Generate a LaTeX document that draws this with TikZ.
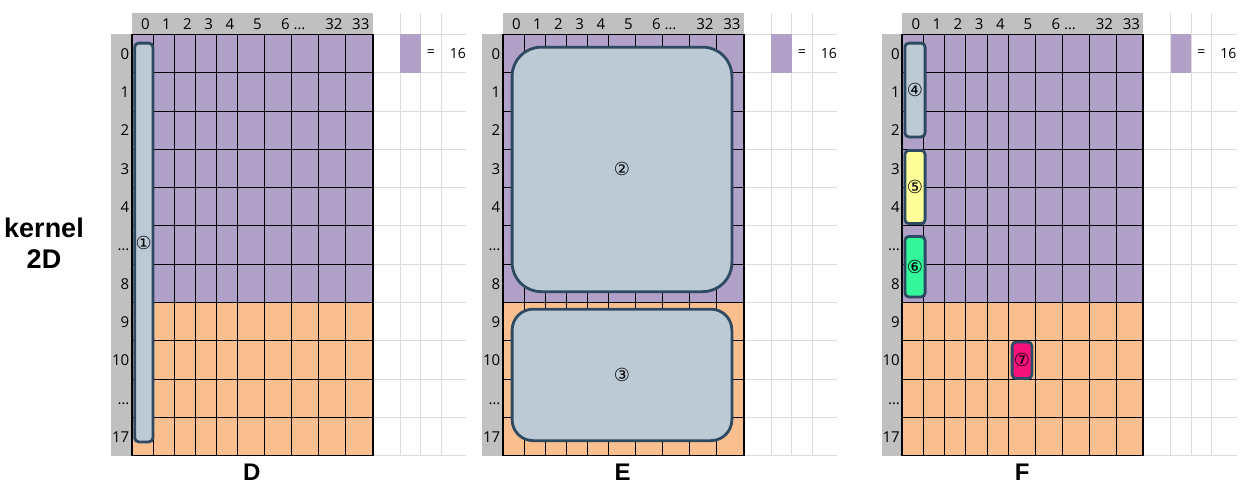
\documentclass[tikz,border=0pt]{standalone}
\usepackage{fontspec}
\setmainfont{Open Sans}
\newfontfamily\titlefont{Liberation Sans}
\newfontfamily\circfont{DejaVu Sans}
\usetikzlibrary{positioning}

\definecolor{hdrgray}{HTML}{C0C0C0}
\definecolor{lilac}{HTML}{B1A0C7}
\definecolor{peach}{HTML}{FABF8F}
\definecolor{boxfill}{HTML}{BCCAD6}
\definecolor{boxline}{HTML}{2E4A62}
\definecolor{hiyellow}{HTML}{FFFF99}
\definecolor{higreen}{HTML}{33F59A}
\definecolor{himagenta}{HTML}{F5127A}
\definecolor{sheetline}{HTML}{DCDCDC}

\begin{document}
\begin{tikzpicture}[x=1pt, y=-1pt,
  axislabel/.style={font=\fontsize{15}{17}\selectfont, inner sep=0pt, anchor=base east},
  panellabel/.style={font=\titlefont\bfseries\fontsize{24}{28}\selectfont, inner sep=0pt, anchor=base},
  sidelabel/.style={font=\titlefont\bfseries\fontsize{27}{30}\selectfont, inner sep=0pt, anchor=base},
  kbox/.style={rectangle, draw=boxline, line width=2.8pt, fill=boxfill, rounded corners=4pt,
    inner sep=0pt, font=\circfont\fontsize{18}{20}\selectfont},
  cellline/.style={line width=0.8pt, draw=black},
  sheetgrid/.style={line width=0.8pt, draw=sheetline}
]
\useasboundingbox (0,0) rectangle (1243,493);

% three identical sheets, shifted
\foreach \ox/\pname in {0/D, 371/E, 770.5/F} {
  \begin{scope}[xshift=\ox pt]
    \fill[hdrgray] (131.7,13.3) rectangle (372.7,34.3);
    \fill[hdrgray] (111,34.3) rectangle (131.7,455.6);
    \foreach \k in {0,...,11}
      \draw[sheetgrid] (372.7,{34.3+\k*38.3}) -- (466,{34.3+\k*38.3});
    \foreach \xx in {400.1,420.7,441.1}
      \draw[sheetgrid] (\xx,13.3) -- (\xx,455.6);
    \fill[lilac] (400.1,34.3) rectangle (420.7,72.6);
    \node[font=\fontsize{14}{16}\selectfont, inner sep=0pt] (eq-\pname) at (430.9,53.4) {=};
    \node[axislabel, font=\fontsize{14}{16}\selectfont] (val-\pname) at (466,58.8) {16};
    \fill[lilac] (131.7,34.3) rectangle (372.7,302.4);
    \fill[peach] (131.7,302.4) rectangle (372.7,455.6);
    \foreach \xx in {152.9,174.1,195.3,216.5,237.7,264.7,291.7,318.7,345.7}
      \draw[cellline] (\xx,34.3) -- (\xx,455.6);
    \foreach \k in {1,...,10}
      \draw[cellline] (131.7,{34.3+\k*38.3}) -- (372.7,{34.3+\k*38.3});
    \draw[line width=1.6pt] (131.7,302.4) -- (372.7,302.4);
    \draw[line width=1.6pt] (131.7,34.3) rectangle (372.7,455.6);
    \foreach \xr/\lab in {149.8/0, 170.8/1, 192/2, 213.2/3, 234.4/4, 261.8/5, 305.5/{6 …}, 342.6/32, 369.6/33}
      \node[axislabel] at (\xr,29.4) {\lab};
    \foreach \i/\lab in {0/0, 1/1, 2/2, 3/3, 4/4, 5/…, 6/8, 7/9, 8/10, 9/…, 10/17}
      \node[axislabel] at (129.5,{34.3+(\i+0.5)*38.3+5.9}) {\lab};
    \node[panellabel] (lab-\pname) at (251.7,480) {\pname};
  \end{scope}
}

\node[sidelabel] (kernel) at (44,237.3) {kernel};
\node[sidelabel] (twoD) at (44,268.3) {2D};

% kernel blocks
\node[kbox, minimum width=18.2pt, minimum height=398.8pt] (k1) at (143.8,242.5) {①};
\node[kbox, rounded corners=29pt, minimum width=219.8pt, minimum height=244.5pt] (k2) at (622,169.4) {②};
\node[kbox, rounded corners=21pt, minimum width=219.8pt, minimum height=131.5pt] (k3) at (622,374.9) {③};
\node[kbox, minimum width=20.2pt, minimum height=93.8pt] (k4) at (915,90) {④};
\node[kbox, fill=hiyellow, minimum width=20.2pt, minimum height=73.2pt] (k5) at (915,187) {⑤};
\node[kbox, fill=higreen, minimum width=20.2pt, minimum height=60.5pt] (k6) at (915,266.7) {⑥};
\node[kbox, fill=himagenta, minimum width=19.8pt, minimum height=36.5pt] (k7) at (1022,360.3) {⑦};

\end{tikzpicture}
\end{document}
